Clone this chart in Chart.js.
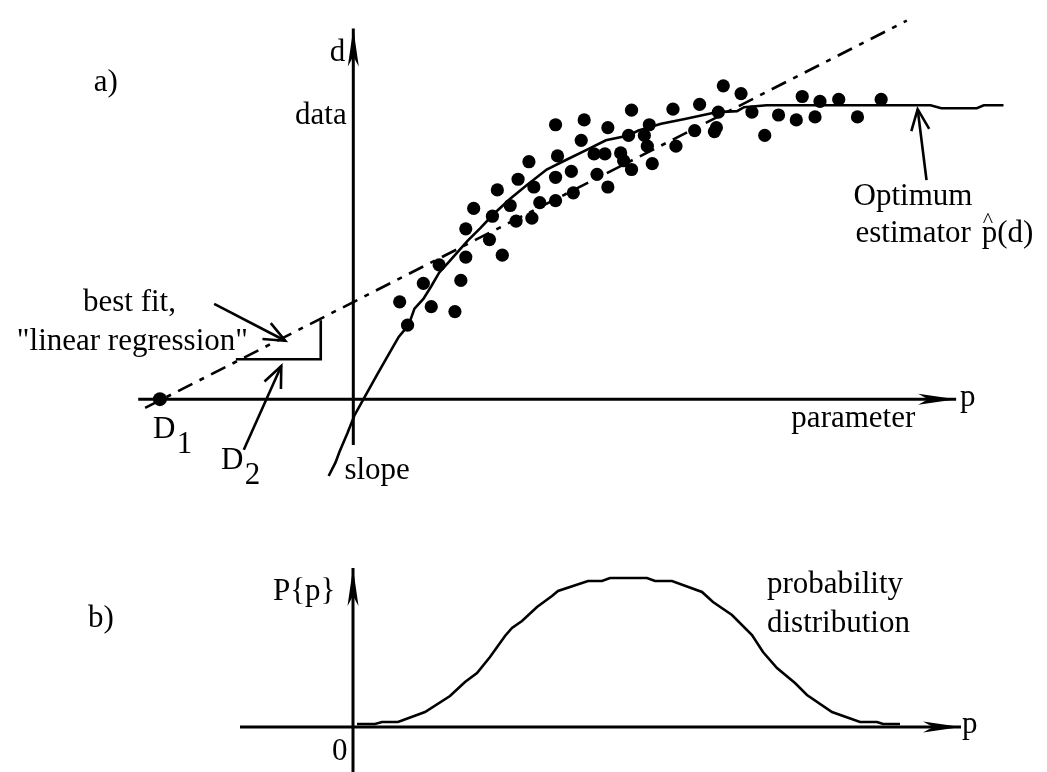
<!DOCTYPE html>
<html><head><meta charset="utf-8">
<script src="https://cdn.jsdelivr.net/npm/chart.js@4.4.1/dist/chart.umd.min.js"></script>
<style>
html,body{margin:0;padding:0;background:#fff;}
#wrap{position:relative;width:1047px;height:772px;overflow:hidden;}
#c1{position:absolute;left:0;top:0;}
#c2{position:absolute;left:0;top:520px;}
</style></head><body>
<div id="wrap">
<canvas id="c1" width="1047" height="520"></canvas>
<canvas id="c2" width="1047" height="252"></canvas>
</div>
<script>
// ---------- Panel a) data (units: diagram units, origin at axes crossing) ----------
const dataPX = [282,205,234,258,279,231,207,244,255,271,274,282,178,221,205,247,167,183,258,146,223,159,189,205,122,141,165,181,114,138,151,114,87,71,109,47,79,103,55,
                375,393,455,473,492,535,324,351,370,404,431,449,468,511,417,300,295,346,368,366,298,327,303];
const dataPY = [297,282,287,279,271,266,250,252,252,253,245,236,244,234,228,231,226,218,218,215,212,199,202,204,196,188,183,186,175,164,148,146,138,119,122,100,95,90,76,
                322,314,311,306,308,308,298,303,295,295,292,287,290,290,271,282,271,276,279,275,260,260,242];
const d1Point = [-196, 0];
const regressionX = [-211, 561];
const regressionY = [-9, 389];
const optimumX = [-25,-18,-14,-6,1,12,24,37,46,56,62,71,79,87,96,109,116,129,142,159,176,196,216,236,256,279,289,312,336,369,389,396,419,585,596,632,639,659];
const optimumY = [-79,-65,-54,-35,-17,3,25,48,64,76,93,103,116,130,140,155,163,176,190,206,220,236,246,256,266,271,276,283,288,295,296,300,302,302,299,299,302,302];
const bracketX = [-119,-33,-33];
const bracketY = [41,41,81];
const pAxisX = [-218, 611];
const dAxisY = [-47, 381];
const arrowBestFit = [[-141,98],[-69,60]];
const arrowD2 = [[-111,-52],[-73,34]];
const arrowOptimum = [[581,225],[572,298]];

// ---------- Panel b) data ----------
const probX = [4,22,29,45,72,97,112,124,137,152,159,169,184,199,205,235,249,257,294,302,319,349,360,379,399,410,424,442,454,479,507,524,530,547];
const probY = [3,3,5,5,15,31,45,54,70,91,99,106,120,131,136,146,146,149,149,146,146,135,125,112,92,75,59,44,32,15,5,5,3,3];
const bAxisX = [-113, 608];
const bAxisY = [-45, 159];

// ---------- Labels ----------
const FONT = '"Liberation Serif","Times New Roman",serif';
const labelsA = [
  {t:'a)', x:-263, y:317},
  {t:'d', x:-24, y:347},
  {t:'data', x:-59, y:283},
  {t:'best fit,', x:-274, y:91},
  {t:'"linear regression"', x:-341, y:51},
  {t:'D', x:-203, y:-40}, {t:'1', x:-179, y:-55},
  {t:'D', x:-134, y:-72}, {t:'2', x:-110, y:-87},
  {t:'slope', x:-9, y:-82},
  {t:'parameter', x:444, y:-29},
  {t:'p', x:615, y:-7},
  {t:'Optimum', x:507, y:200},
  {t:'estimator', x:509, y:161},
  {t:'p(d)', x:637, y:161},
  {t:'^', x:638, y:177, size:22}
];
const labelsB = [
  {t:'b)', x:-265, y:100},
  {t:'P{p}', x:-80, y:127},
  {t:'0', x:-21, y:-33},
  {t:'probability', x:414, y:134},
  {t:'distribution', x:414, y:95},
  {t:'p', x:609, y:-6}
];

const zip = (xs, ys) => xs.map((x, i) => ({x, y: ys[i]}));
const seg = (pair) => pair.map(p => ({x: p[0], y: p[1]}));

const drawPlugin = (labels) => ({
  id: 'deco',
  afterDatasetsDraw(chart) {
    const ctx = chart.ctx;
    const xs = chart.scales.x, ys = chart.scales.y;
    ctx.save();
    chart.data.datasets.forEach((ds, i) => {
      if (!ds.arrow) return;
      const meta = chart.getDatasetMeta(i);
      const n = meta.data.length;
      const a = meta.data[n - 2], b = meta.data[n - 1];
      const dx = b.x - a.x, dy = b.y - a.y, L = Math.hypot(dx, dy);
      const ux = dx / L, uy = dy / L, nx = -uy, ny = ux;
      ctx.fillStyle = '#000'; ctx.strokeStyle = '#000';
      if (ds.arrow === 'filled') {
        ctx.beginPath();
        ctx.moveTo(b.x, b.y);
        ctx.lineTo(b.x - 38 * ux + 5.5 * nx, b.y - 38 * uy + 5.5 * ny);
        ctx.lineTo(b.x - 28 * ux, b.y - 28 * uy);
        ctx.lineTo(b.x - 38 * ux - 5.5 * nx, b.y - 38 * uy - 5.5 * ny);
        ctx.closePath();
        ctx.fill();
      } else {
        const len = 21, w = 9;
        ctx.lineWidth = 2.6; ctx.lineCap = 'butt'; ctx.lineJoin = 'miter';
        ctx.beginPath();
        ctx.moveTo(b.x - len * ux + w * nx, b.y - len * uy + w * ny);
        ctx.lineTo(b.x, b.y);
        ctx.lineTo(b.x - len * ux - w * nx, b.y - len * uy - w * ny);
        ctx.stroke();
      }
    });
    ctx.fillStyle = '#000';
    ctx.textBaseline = 'alphabetic';
    ctx.textAlign = 'left';
    labels.forEach(l => {
      ctx.font = (l.size || 31) + 'px ' + FONT;
      ctx.fillText(l.t, xs.getPixelForValue(l.x), ys.getPixelForValue(l.y));
    });
    ctx.restore();
  }
});

const baseOpts = (xmin, xmax, ymin, ymax) => ({
  responsive: false,
  animation: false,
  devicePixelRatio: 1,
  layout: {padding: 0},
  plugins: {legend: {display: false}, tooltip: {enabled: false}},
  scales: {
    x: {type: 'linear', min: xmin, max: xmax, display: false},
    y: {type: 'linear', min: ymin, max: ymax, display: false}
  }
});

const lineDs = (data, extra) => Object.assign({
  data, showLine: true, pointRadius: 0, borderColor: '#000', borderWidth: 2.6,
  tension: 0, fill: false, clip: false
}, extra || {});

new Chart(document.getElementById('c1'), {
  type: 'scatter',
  data: {
    datasets: [
      lineDs(zip(pAxisX, [0, 0]), {borderWidth: 3, arrow: 'filled'}),
      lineDs(zip([0, 0], dAxisY), {borderWidth: 3, arrow: 'filled'}),
      lineDs(zip(regressionX, regressionY), {borderWidth: 2.6, borderDash: [16, 8, 5, 8]}),
      lineDs(zip(optimumX, optimumY), {borderWidth: 2.6}),
      lineDs(zip(bracketX, bracketY), {borderWidth: 2.6}),
      lineDs(seg(arrowBestFit), {arrow: 'open'}),
      lineDs(seg(arrowD2), {arrow: 'open'}),
      lineDs(seg(arrowOptimum), {arrow: 'open'}),
      {data: zip(dataPX, dataPY), pointRadius: 6.6, pointBackgroundColor: '#000', pointBorderWidth: 0, borderColor: '#000', showLine: false},
      {data: [{x: d1Point[0], y: d1Point[1]}], pointRadius: 7, pointBackgroundColor: '#000', pointBorderWidth: 0, showLine: false}
    ]
  },
  options: baseOpts(-351, 696, -117, 403),
  plugins: [drawPlugin(labelsA)]
});

new Chart(document.getElementById('c2'), {
  type: 'scatter',
  data: {
    datasets: [
      lineDs(zip(bAxisX, [0, 0]), {borderWidth: 3, arrow: 'filled'}),
      lineDs(zip([0, 0], bAxisY), {borderWidth: 3, arrow: 'filled'}),
      lineDs(zip(probX, probY), {borderWidth: 2.6})
    ]
  },
  options: baseOpts(-353, 694, -45, 207),
  plugins: [drawPlugin(labelsB)]
});
</script>
</body></html>
